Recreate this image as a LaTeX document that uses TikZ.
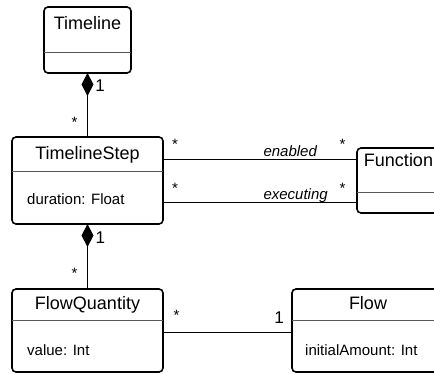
\documentclass[tikz,border=0pt]{standalone}
\usepackage{fontspec}
\setmainfont{Liberation Sans}
\usetikzlibrary{arrows.meta}
\begin{document}
\begin{tikzpicture}[x=1pt,y=-1pt,
  cls/.style={draw=black,line width=1.6pt,rounded corners=4pt,inner sep=0pt,outer sep=0pt},
  sepline/.style={draw=black!65,line width=0.9pt},
  conn/.style={draw=black,line width=0.9pt},
  title/.style={anchor=base,inner sep=0pt,font=\fontsize{18}{20}\selectfont},
  attr/.style={anchor=base west,inner sep=0pt,font=\fontsize{15}{17}\selectfont},
  mult/.style={anchor=base,inner sep=0pt,font=\fontsize{15}{17}\selectfont},
  multone/.style={anchor=base,inner sep=0pt,font=\fontsize{17}{19}\selectfont},
  role/.style={anchor=base west,inner sep=0pt,font=\fontsize{15}{17}\selectfont\itshape},
  comp/.style={conn,-{Diamond[length=23pt,width=12pt]}}]
\path[use as bounding box,clip] (0,0) rectangle (434,374);
% classes
\node[cls,minimum width=87pt,minimum height=66pt] (tl) at (87.5,40) {};
\node[cls,minimum width=151pt,minimum height=87pt] (ts) at (87.5,180.5) {};
\node[cls,minimum width=90pt,minimum height=65pt] (fn) at (402,180.5) {};
\node[cls,minimum width=151pt,minimum height=83pt] (fq) at (87.5,330.5) {};
\node[cls,minimum width=152pt,minimum height=83pt] (fl) at (368,330.5) {};
% separators
\draw[sepline] (tl.west |- 0,52) -- (tl.east |- 0,52);
\draw[sepline] (ts.west |- 0,171) -- (ts.east |- 0,171);
\draw[sepline] (fn.west |- 0,192) -- (fn.east |- 0,192);
\draw[sepline] (fq.west |- 0,320) -- (fq.east |- 0,320);
\draw[sepline] (fl.west |- 0,320) -- (fl.east |- 0,320);
% texts
\node[title] (tlt) at (87.5,29.5) {Timeline};
\node[title] (tst) at (87.5,159.3) {TimelineStep};
\node[attr] (tsa) at (27,205) {duration: Float};
\node[title] (fnt) at (398.5,167) {Function};
\node[title] (fqt) at (87.5,309) {FlowQuantity};
\node[attr] (fqa) at (27,355) {value: Int};
\node[title] (flt) at (368,309) {Flow};
\node[attr] (fla) at (305,355) {initialAmount: Int};
% connectors
\draw[comp] (ts.north) -- (tl.south);
\draw[comp] (fq.north) -- (ts.south);
\draw[conn] ([yshift=21.5pt]ts.east) -- ([yshift=21.5pt]fn.west);
\draw[conn] ([yshift=-21.5pt]ts.east) -- ([yshift=-21.5pt]fn.west);
\draw[conn] ([yshift=-1.5pt]fq.east) -- ([yshift=-1.5pt]fl.west);
% multiplicities
\node[multone] (m1) at (100,91.7) {1};
\node[mult] (m2) at (74.5,127.4) {*};
\node[multone] (m3) at (100.3,243.3) {1};
\node[mult] (m4) at (74.5,278.4) {*};
\node[mult] (m5) at (175,150) {*};
\node[mult] (m6) at (342.5,150) {*};
\node[mult] (m7) at (175,193.4) {*};
\node[mult] (m8) at (342.5,193.4) {*};
\node[mult] (m9) at (176.5,320.7) {*};
\node[multone] (m10) at (279,323.3) {1};
\node[role] (r1) at (263.3,156.7) {enabled};
\node[role] (r2) at (263.3,200) {executing};
\end{tikzpicture}
\end{document}
